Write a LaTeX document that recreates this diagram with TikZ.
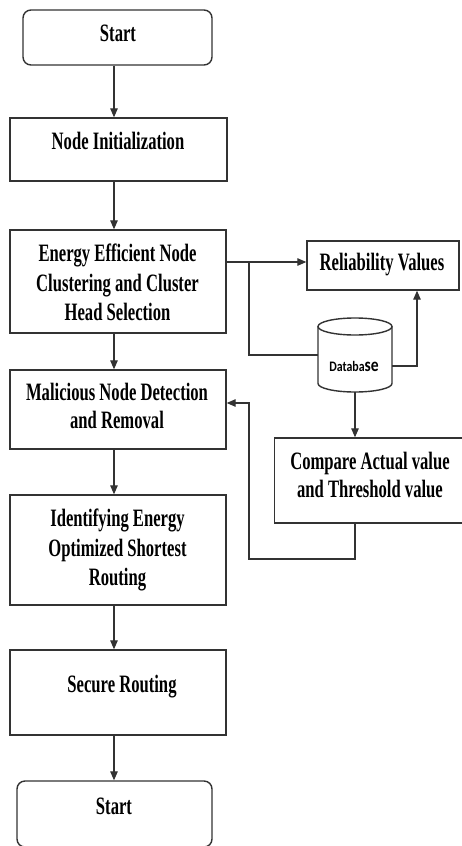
\documentclass[tikz,border=0pt]{standalone}
\usepackage{fontspec}
\setmainfont{Liberation Serif}[FakeStretch=0.665]
\newfontfamily\dbfont{Carlito}[FakeStretch=0.82]
\usetikzlibrary{arrows.meta,calc}

\begin{document}
\begin{tikzpicture}[x=1pt,y=1pt,
  frame/.style={draw=black!80, line width=1.4pt, inner sep=0pt},
  boxtext/.style={font=\fontsize{25}{30}\selectfont\bfseries, anchor=base, inner sep=0pt},
  link/.style={draw=black!80, line width=1.3pt},
  arr/.style={link, -{Triangle[length=9pt,width=7.5pt]}}]

\fill[white] (0,0) rectangle (462,-846);
\useasboundingbox (0,0) rectangle (462,-846);

% guide columns for the connectors
\coordinate (spine) at (114,0);
\coordinate (riser) at (417,0);
\coordinate (tap) at (249,-262);
\coordinate (back) at (249,-559);
\coordinate (entry) at (249,-403);

% main flow boxes
\node[frame, rounded corners=8pt, minimum width=189pt, minimum height=55pt] (start) at (117.5,-37.5) {};
\node[frame, minimum width=217pt, minimum height=63pt] (init) at (118.5,-149.5) {};
\node[frame, minimum width=216pt, minimum height=103pt] (energy) at (118,-281.5) {};
\node[frame, minimum width=216pt, minimum height=79pt] (mal) at (118,-409.5) {};
\node[frame, minimum width=216pt, minimum height=110pt] (ident) at (118,-550) {};
\node[frame, minimum width=216pt, minimum height=85pt] (secure) at (118,-692.5) {};
\node[frame, rounded corners=8pt, minimum width=195pt, minimum height=66pt] (finish) at (114.5,-814) {};

% side boxes
\node[frame, minimum width=152pt, minimum height=49pt] (reliab) at (383,-265.5) {};
\node[frame, minimum width=195pt, minimum height=85pt] (compare) at (372,-480.5) {};

% database cylinder
\node[inner sep=0pt, minimum width=74pt, minimum height=74pt] (db) at (355,-355) {};
\draw[frame] (318,-326.5) -- (318,-383.5)
  arc[start angle=180, end angle=360, x radius=37pt, y radius=8.5pt] -- (392,-326.5);
\draw[frame] (355,-326.5) ellipse [x radius=37pt, y radius=8.5pt];
\node[anchor=base, inner sep=0pt] (dbtext) at (354,-371)
  {\dbfont\bfseries\fontsize{14.5}{14.5}\selectfont Databa{\fontsize{19}{19}\selectfont se}};

% box texts
\node[boxtext] (t-start) at (118,-41) {Start};
\node[boxtext] (t-init) at (118,-149) {Node Initialization};
\node[boxtext] (t-energy1) at (117.5,-261.5) {Energy Efficient Node};
\node[boxtext] (t-energy2) at (117.5,-291.5) {Clustering and Cluster};
\node[boxtext] (t-energy3) at (117.5,-320.5) {Head Selection};
\node[boxtext] (t-mal1) at (117,-400) {Malicious Node Detection};
\node[boxtext] (t-mal2) at (117,-428) {and Removal};
\node[boxtext] (t-ident1) at (117.5,-526) {Identifying Energy};
\node[boxtext] (t-ident2) at (117.5,-556) {Optimized Shortest};
\node[boxtext] (t-ident3) at (117.5,-585) {Routing};
\node[boxtext] (t-secure) at (122,-692.5) {Secure Routing};
\node[boxtext] (t-finish) at (114,-814) {Start};
\node[boxtext] (t-reliab) at (382,-270) {Reliability Values};
\node[boxtext] (t-compare1) at (370,-469) {Compare Actual value};
\node[boxtext] (t-compare2) at (370,-497.5) {and Threshold value};

% main flow connectors
\draw[arr] (start.south -| spine) -- (init.north -| spine);
\draw[arr] (init.south -| spine) -- (energy.north -| spine);
\draw[arr] (energy.south -| spine) -- (mal.north -| spine);
\draw[arr] (mal.south -| spine) -- (ident.north -| spine);
\draw[arr] (ident.south -| spine) -- (secure.north -| spine);
\draw[arr] (secure.south -| spine) -- (finish.north -| spine);

% side connectors
\draw[arr] (energy.east |- tap) -- (reliab.west |- tap);
\draw[link] (tap) |- (db.west);
\draw[arr] ([yshift=-11pt]db.east) -| (reliab.south -| riser);
\draw[arr] (db.south) -- (db.south |- compare.north);
\draw[arr] (compare.south -| db.south) |- (back) -- (entry) -- (mal.east |- entry);
\end{tikzpicture}
\end{document}
